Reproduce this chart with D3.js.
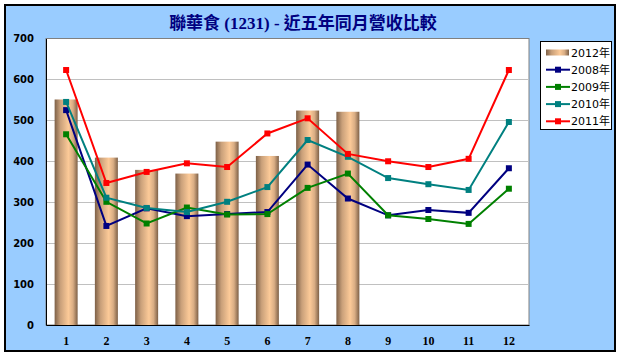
<!DOCTYPE html>
<html><head><meta charset="utf-8">
<script src="https://cdn.jsdelivr.net/npm/d3@7"></script>
<style>body{margin:0;padding:0;background:#fff}svg{display:block}</style>
</head><body>
<script>
const months = ["1","2","3","4","5","6","7","8","9","10","11","12"];
const yTicks = [0,100,200,300,400,500,600,700];
const bars2012 = [551,409,379,370,448,413,524,521];
const s2008 = [525,242,285,266,271,276,392,309,268,281,274,383];
const s2009 = [466,301,248,287,270,271,335,370,268,259,247,333];
const s2010 = [545,311,286,276,301,337,452,411,359,344,330,496];
const s2011 = [623,347,374,395,386,468,505,418,400,386,406,623];
const seriesNames = ["2008年","2009年","2010年","2011年"];
const seriesColors = ["#000080","#008000","#008080","#FF0000"];
const seriesData = [s2008,s2009,s2010,s2011];
const title = "聯華食 (1231) - 近五年同月營收比較";

const W=622,H=358;
const svg=d3.select("body").append("svg").attr("width",W).attr("height",H);
const defs=svg.append("defs");
const g=defs.append("linearGradient").attr("id","cyl").attr("x1","0").attr("x2","1").attr("y1","0").attr("y2","0");
[[0,"#7d6047"],[0.25,"#c9a07a"],[0.6,"#fcca98"],[0.8,"#d9ad84"],[1,"#7d6047"]].forEach(([o,c])=>g.append("stop").attr("offset",o).attr("stop-color",c));

svg.append("rect").attr("x",0).attr("y",0).attr("width",W).attr("height",H).attr("fill","#fff");
svg.append("rect").attr("x",5).attr("y",5).attr("width",610).attr("height",346).attr("fill","#99CCFF").attr("stroke","#000").attr("stroke-width",2);

svg.append("text").attr("x",303).attr("y",29).attr("text-anchor","middle")
  .attr("font-family","'Liberation Serif','Noto Sans CJK TC',serif").attr("font-weight","bold").attr("font-size",17).attr("fill","#000080").text(title);

const L=46,R=529,T=38.5,B=325;
const x=d3.scaleBand().domain(months).range([L,R]);
const y=d3.scaleLinear().domain([0,700]).range([B,T]);

svg.append("rect").attr("x",L).attr("y",T).attr("width",R-L).attr("height",B-T).attr("fill","#fff").attr("stroke","#808080").attr("stroke-width",1);
svg.append("g").selectAll("line").data(yTicks.filter(d=>d>0&&d<700)).join("line")
  .attr("x1",L).attr("x2",R).attr("y1",d=>Math.round(y(d))+0.5).attr("y2",d=>Math.round(y(d))+0.5)
  .attr("stroke","#C0C0C0").attr("stroke-width",1);

const bw=23;
svg.append("g").selectAll("rect").data(bars2012).join("rect")
  .attr("x",(d,i)=>x(months[i])+x.bandwidth()/2-bw/2).attr("width",bw)
  .attr("y",d=>y(d)).attr("height",d=>B-y(d)).attr("fill","url(#cyl)");

// axes
const yAxis=d3.axisLeft(y).tickValues(yTicks).tickSize(0).tickPadding(12);
const ya=svg.append("g").attr("transform",`translate(${L},0)`).call(yAxis);
ya.select(".domain").attr("stroke","#000");
ya.selectAll("text").attr("font-family","'DejaVu Sans',Verdana,sans-serif").attr("font-weight","bold").attr("font-size",10).attr("fill","#000");
const xAxis=d3.axisBottom(x).tickSize(0).tickPadding(11);
const xa=svg.append("g").attr("transform",`translate(0,${B})`).call(xAxis);
xa.select(".domain").attr("stroke","#000");
xa.selectAll("text").attr("font-family","'Liberation Serif',serif").attr("font-weight","bold").attr("font-size",12).attr("fill","#000");

const line=d3.line().x((d,i)=>x(months[i])+x.bandwidth()/2).y(d=>y(d));
seriesData.forEach((s,k)=>{
  const gg=svg.append("g");
  gg.append("path").attr("d",line(s)).attr("fill","none").attr("stroke",seriesColors[k]).attr("stroke-width",2);
  gg.selectAll("rect").data(s).join("rect")
    .attr("x",(d,i)=>x(months[i])+x.bandwidth()/2-3).attr("y",d=>y(d)-3)
    .attr("width",6).attr("height",6).attr("fill",seriesColors[k]);
});

// legend
const lg=svg.append("g");
lg.append("rect").attr("x",540.5).attr("y",41.5).attr("width",71).attr("height",88).attr("fill","#fff").attr("stroke","#000").attr("stroke-width",1);
const entries=[{name:"2012年",bar:true}].concat(seriesNames.map((n,k)=>({name:n,color:seriesColors[k]})));
entries.forEach((e,i)=>{
  const cy=52.5+i*17.2;
  if(e.bar){
    lg.append("rect").attr("x",546).attr("y",cy-3).attr("width",23).attr("height",6).attr("fill","url(#cyl)");
  } else {
    lg.append("line").attr("x1",546).attr("x2",570).attr("y1",cy).attr("y2",cy).attr("stroke",e.color).attr("stroke-width",2);
    lg.append("rect").attr("x",555).attr("y",cy-3).attr("width",6).attr("height",6).attr("fill",e.color);
  }
  lg.append("text").attr("x",571).attr("y",cy+4).attr("font-family","'DejaVu Sans','Noto Sans CJK TC',sans-serif").attr("font-size",11).attr("fill","#000").text(e.name);
});
</script>
</body></html>
